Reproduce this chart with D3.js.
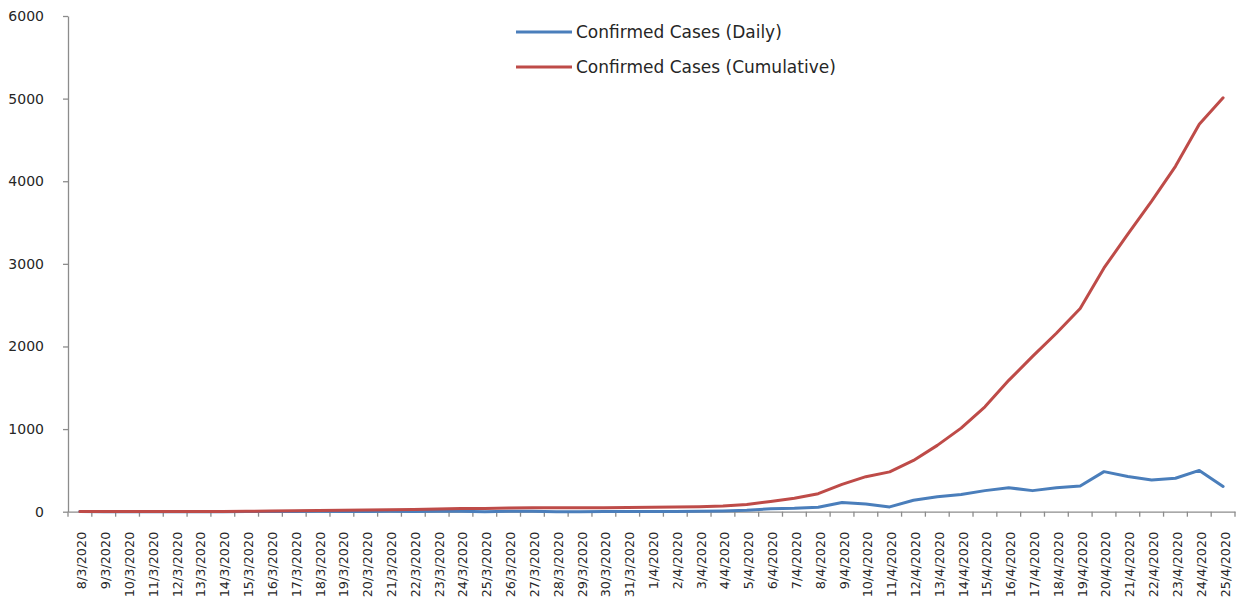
<!DOCTYPE html>
<html>
<head>
<meta charset="utf-8">
<script src="https://cdn.jsdelivr.net/npm/d3@7"></script>
<style>
  body { margin: 0; background: #fff; }
  svg { display: block; }
</style>
</head>
<body>
<div id="chart"></div>
<script>
// dates on the x axis
var dates = ['8/3/2020', '9/3/2020', '10/3/2020', '11/3/2020', '12/3/2020', '13/3/2020', '14/3/2020',
    '15/3/2020', '16/3/2020', '17/3/2020', '18/3/2020', '19/3/2020', '20/3/2020', '21/3/2020',
    '22/3/2020', '23/3/2020', '24/3/2020', '25/3/2020', '26/3/2020', '27/3/2020', '28/3/2020',
    '29/3/2020', '30/3/2020', '31/3/2020', '1/4/2020', '2/4/2020', '3/4/2020', '4/4/2020',
    '5/4/2020', '6/4/2020', '7/4/2020', '8/4/2020', '9/4/2020', '10/4/2020', '11/4/2020',
    '12/4/2020', '13/4/2020', '14/4/2020', '15/4/2020', '16/4/2020', '17/4/2020', '18/4/2020',
    '19/4/2020', '20/4/2020', '21/4/2020', '22/4/2020', '23/4/2020', '24/4/2020', '25/4/2020'];

var daily = [3, 0, 0, 0, 0, 0, 0,
    2, 3, 2, 4, 3, 3, 4,
    3, 6, 6, 0, 5, 4, 0,
    0, 1, 2, 3, 2, 5, 9,
    18, 35, 41, 54, 112, 94, 58,
    139, 182, 209, 255, 290, 255, 290,
    310, 485, 425, 385, 405, 500, 305];

var cumulative = [3, 3, 3, 3, 3, 3, 3,
    5, 8, 10, 14, 17, 20, 24,
    27, 33, 39, 39, 44, 48, 48,
    48, 49, 51, 54, 56, 61, 70,
    88, 123, 164, 218, 330, 424, 482,
    621, 803, 1012, 1270, 1590, 1880, 2160,
    2460, 2950, 3360, 3760, 4180, 4690, 5010];

var yTicks = [0, 1000, 2000, 3000, 4000, 5000, 6000];

var seriesNames = ['Confirmed Cases (Daily)', 'Confirmed Cases (Cumulative)'];
var seriesColors = ['#4a7ebb', '#be4b48'];

var width = 1240, height = 597;
var axisColor = '#8c8c8c';
var font = '"DejaVu Sans", Verdana, sans-serif';

var svg = d3.select('#chart')
    .append('svg')
    .attr('width', width)
    .attr('height', height);

var x = d3.scaleBand()
    .domain(dates)
    .range([68, 1235])
    .padding(0);

var y = d3.scaleLinear()
    .domain([0, 6000])
    .range([511.7, 16]);

// y axis
var yAxis = svg.append('g')
    .attr('transform', 'translate(68,0)')
    .call(d3.axisLeft(y).tickValues(yTicks).tickFormat(d3.format('d'))
        .tickSize(5).tickSizeOuter(0).tickPadding(19));
yAxis.select('.domain').attr('stroke', axisColor).attr('stroke-width', 1.3);
yAxis.selectAll('.tick line').attr('stroke', axisColor).attr('stroke-width', 1.3);
yAxis.selectAll('text')
    .attr('fill', '#262626')
    .style('font-family', font)
    .style('font-size', '14px');

// x axis: labels at band centres, ticks between categories
var xAxis = svg.append('g')
    .attr('transform', 'translate(0,' + y(0) + ')')
    .call(d3.axisBottom(x).tickSize(0).tickSizeOuter(0));
xAxis.select('.domain').attr('stroke', axisColor).attr('stroke-width', 1.3);
xAxis.selectAll('text')
    .attr('fill', '#262626')
    .attr('x', -20)
    .attr('y', 2)
    .attr('dy', '0.35em')
    .attr('transform', 'rotate(-90)')
    .style('text-anchor', 'end')
    .style('font-family', font)
    .style('font-size', '12.8px');

var bounds = dates.map(function (d) { return x(d); }).concat([x.range()[1]]);
xAxis.selectAll('.bound')
    .data(bounds)
    .enter()
    .append('line')
    .attr('class', 'bound')
    .attr('x1', function (d) { return d; })
    .attr('x2', function (d) { return d; })
    .attr('y1', 0)
    .attr('y2', 5)
    .attr('stroke', axisColor)
    .attr('stroke-width', 1.3);

// lines
var line = d3.line()
    .x(function (d, i) { return x(dates[i]) + x.bandwidth() / 2; })
    .y(function (d) { return y(d); });

[daily, cumulative].forEach(function (values, k) {
    svg.append('path')
        .datum(values)
        .attr('fill', 'none')
        .attr('stroke', seriesColors[k])
        .attr('stroke-width', 3)
        .attr('stroke-linejoin', 'round')
        .attr('stroke-linecap', 'round')
        .attr('d', line);
});

// legend
var legend = svg.append('g');
seriesNames.forEach(function (name, k) {
    var ly = 32 + k * 35;
    legend.append('line')
        .attr('x1', 516)
        .attr('x2', 572)
        .attr('y1', ly)
        .attr('y2', ly)
        .attr('stroke', seriesColors[k])
        .attr('stroke-width', 3);
    legend.append('text')
        .attr('x', 576)
        .attr('y', ly)
        .attr('dy', '0.35em')
        .attr('fill', '#262626')
        .style('font-family', font)
        .style('font-size', '17px')
        .text(name);
});
</script>
</body>
</html>
